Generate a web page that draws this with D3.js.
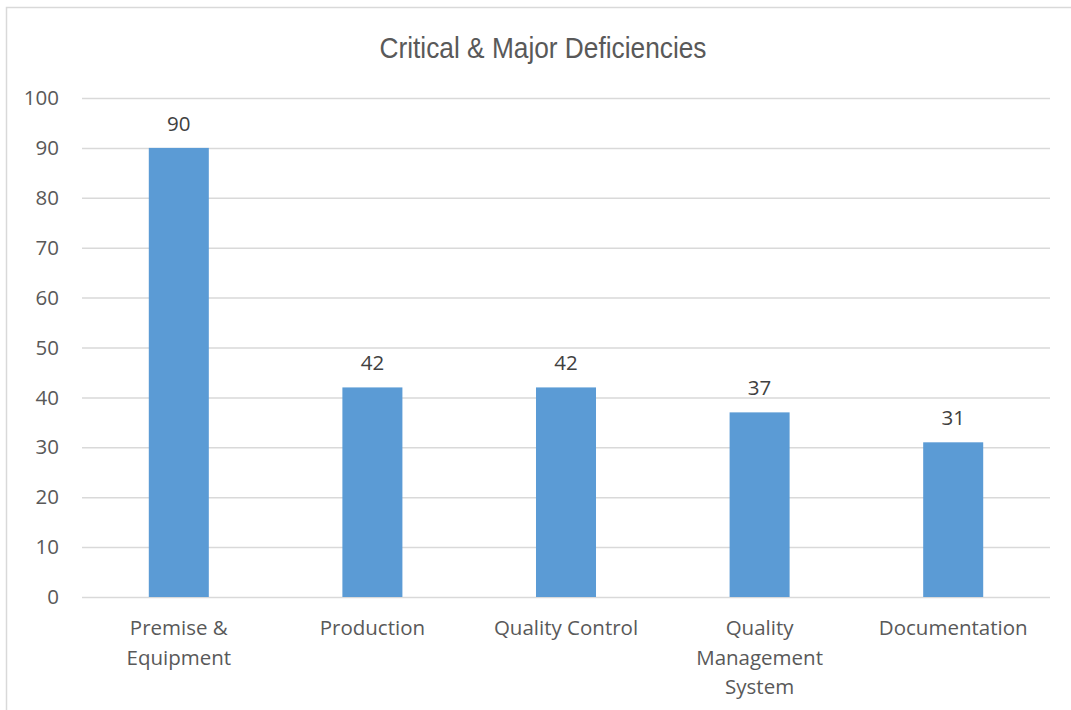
<!DOCTYPE html>
<html>
<head>
<meta charset="utf-8">
<script src="https://cdn.jsdelivr.net/npm/d3@7"></script>
<style>
  body { margin: 0; background: #fff; }
  svg { display: block; }
</style>
</head>
<body>
<div id="chart"></div>
<script>
const categories = [["Premise &", "Equipment"], ["Production"], ["Quality Control"], ["Quality", "Management", "System"], ["Documentation"]];
const values = [90, 42, 42, 37, 31];
const yTicks = [0, 10, 20, 30, 40, 50, 60, 70, 80, 90, 100];
const title = "Critical & Major Deficiencies";

const width = 1071, height = 710;
const margin = {left: 82, right: 21, top: 98, bottom: 113};

const svg = d3.select("#chart").append("svg")
  .attr("width", width)
  .attr("height", height);

// outer chart frame (runs off right and bottom edges)
svg.append("path")
  .attr("d", "M6.5," + height + "V7.5H" + width)
  .attr("fill", "none")
  .attr("stroke", "#d9d9d9")
  .attr("stroke-width", 1.5);

svg.append("text")
  .attr("x", 543)
  .attr("y", 58)
  .attr("text-anchor", "middle")
  .attr("font-family", "'Liberation Sans', Arial, sans-serif")
  .attr("font-size", 29)
  .attr("textLength", 327)
  .attr("lengthAdjust", "spacingAndGlyphs")
  .attr("fill", "#595959")
  .text(title);

const keys = categories.map(d => d.join(" "));

const x = d3.scaleBand()
  .domain(keys)
  .range([margin.left, width - margin.right])
  .paddingInner(0.69)
  .paddingOuter(0.345);

const y = d3.scaleLinear()
  .domain([0, 100])
  .range([height - margin.bottom, margin.top]);

const font = "'Open Sans', 'Noto Sans', sans-serif";
const fs = 20.5;

// grid
const grid = svg.append("g")
  .attr("transform", "translate(" + margin.left + ",0)")
  .call(d3.axisLeft(y).tickValues(yTicks).tickSize(-(width - margin.left - margin.right)).tickFormat(""));
grid.select(".domain").remove();
grid.selectAll("line").attr("stroke", "#d9d9d9").attr("stroke-width", 1.5);

// y labels
svg.append("g").selectAll("text")
  .data(yTicks)
  .join("text")
  .attr("x", 59)
  .attr("y", d => y(d))
  .attr("dy", "0.35em")
  .attr("text-anchor", "end")
  .attr("font-family", font)
  .attr("font-size", fs)
  .attr("fill", "#595959")
  .text(d => d);

// bars
svg.append("g").selectAll("rect")
  .data(values)
  .join("rect")
  .attr("x", (d, i) => x(keys[i]))
  .attr("y", d => y(d))
  .attr("width", x.bandwidth())
  .attr("height", d => y(0) - y(d))
  .attr("fill", "#5b9bd5");

// value labels
svg.append("g").selectAll("text")
  .data(values)
  .join("text")
  .attr("x", (d, i) => x(keys[i]) + x.bandwidth() / 2)
  .attr("y", d => y(d) - 17)
  .attr("text-anchor", "middle")
  .attr("font-family", font)
  .attr("font-size", fs)
  .attr("fill", "#404040")
  .text(d => d);

// category labels
const cat = svg.append("g").selectAll("text")
  .data(categories)
  .join("text")
  .attr("text-anchor", "middle")
  .attr("font-family", font)
  .attr("font-size", fs)
  .attr("fill", "#595959");

cat.each(function (lines, i) {
  const cx = x(keys[i]) + x.bandwidth() / 2;
  d3.select(this).selectAll("tspan")
    .data(lines)
    .join("tspan")
    .attr("x", cx)
    .attr("y", (d, j) => 635 + j * 29.5)
    .text(d => d);
});
</script>
</body>
</html>
